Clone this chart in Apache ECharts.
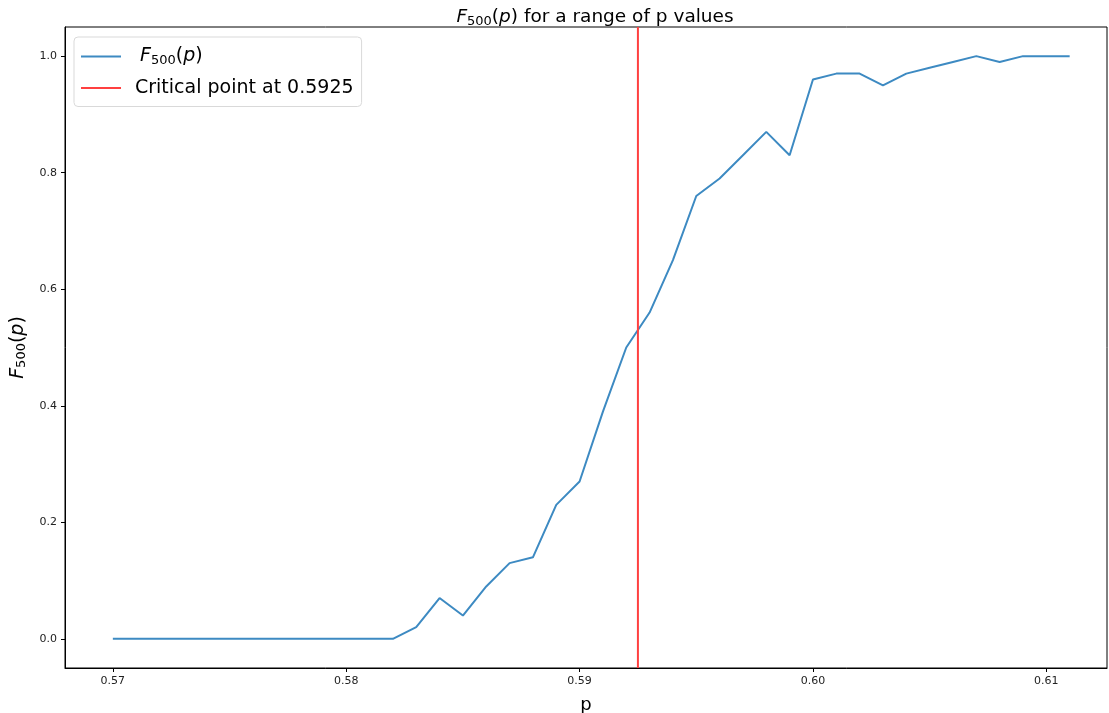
<!DOCTYPE html>
<html>
<head>
<meta charset="utf-8">
<script src="https://cdn.jsdelivr.net/npm/echarts@6/dist/echarts.min.js"></script>
<style>html,body{margin:0;padding:0;background:#fff}#c{width:1109px;height:713px}</style>
</head>
<body>
<div id="c"></div>
<script>
const pValues = [0.570,0.571,0.572,0.573,0.574,0.575,0.576,0.577,0.578,0.579,0.580,0.581,0.582,0.583,0.584,0.585,0.586,0.587,0.588,0.589,0.590,0.591,0.592,0.593,0.594,0.595,0.596,0.597,0.598,0.599,0.600,0.601,0.602,0.603,0.604,0.605,0.606,0.607,0.608,0.609,0.610,0.611];
const fValues = [0,0,0,0,0,0,0,0,0,0,0,0,0,0.02,0.07,0.04,0.09,0.13,0.14,0.23,0.27,0.39,0.50,0.56,0.65,0.76,0.79,0.83,0.87,0.83,0.96,0.97,0.97,0.95,0.97,0.98,0.99,1.00,0.99,1.00,1.00,1.00];
const criticalP = 0.5925;
const xTicks = [0.57,0.58,0.59,0.60,0.61];
const yTicks = [0.0,0.2,0.4,0.6,0.8,1.0];
const seriesNames = ['F500', 'Critical point at 0.5925'];

const chart = echarts.init(document.getElementById('c'), null, {renderer:'canvas'});
const fam = 'DejaVu Sans';
const rich = (fs) => ({
  i: {fontFamily: fam, fontSize: fs, fontStyle: 'italic', fontWeight: 'normal', color: '#000'},
  s: {fontFamily: fam, fontSize: Math.round(fs*0.7), fontWeight: 'normal', color: '#000', padding: [Math.round(fs*0.45),0,0,0]},
  n: {fontFamily: fam, fontSize: fs, fontWeight: 'normal', color: '#000'},
  g: {fontFamily: fam, fontSize: fs, width: 9},
  g2: {fontFamily: fam, fontSize: fs, width: 14}
});
chart.setOption({
  animation: false,
  title: {
    text: '{i|F}{s|500}{n|(}{i|p}{n|) for a range of p values}',
    left: 590, top: 2, textAlign: 'center',
    textStyle: {fontWeight: 'normal', rich: rich(18.5)}
  },
  legend: {
    show: true, left: 74, top: 37, orient: 'vertical',
    data: seriesNames,
    itemWidth: 40, itemHeight: 2, icon: 'rect', itemGap: 11,
    padding: [10, 8, 9, 7],
    borderColor: '#d9d9d9', borderWidth: 1, borderRadius: 4,
    backgroundColor: 'rgba(255,255,255,0.8)',
    formatter: function(name){
      if (name === seriesNames[0]) return '{g2| }{i|F}{s|500}{n|(}{i|p}{n|)}';
      return '{g| }{n|' + name + '}';
    },
    textStyle: {fontWeight: 'normal', rich: rich(19)}
  },
  grid: {left: 65, right: 2, top: 27, bottom: 45, outerBoundsMode: 'none', containLabel: false, show: true, borderColor: '#000', borderWidth: 1, backgroundColor: 'transparent'},
  xAxis: {
    type: 'value', min: 0.56795, max: 0.6126,
    name: 'p', nameLocation: 'middle', nameGap: 28,
    nameTextStyle: {fontFamily: fam, fontSize: 18, color: '#000'},
    splitLine: {show: false},
    axisLine: {show: true, onZero: false, lineStyle: {color: '#000', width: 1}},
    axisTick: {show: true, length: 4, customValues: xTicks, lineStyle: {color: '#000'}},
    axisLabel: {customValues: xTicks, formatter: v => v.toFixed(2), fontFamily: fam, fontSize: 11, color: '#222', margin: 8}
  },
  yAxis: {
    type: 'value', min: -0.05, max: 1.05,
    name: '{i|F}{s|500}{n|(}{i|p}{n|)}', nameLocation: 'middle', nameGap: 35, nameRotate: 90,
    nameTextStyle: {rich: rich(19)},
    splitLine: {show: false},
    axisLine: {show: true, onZero: false, lineStyle: {color: '#000', width: 1}},
    axisTick: {show: true, length: 4, customValues: yTicks, lineStyle: {color: '#000'}},
    axisLabel: {customValues: yTicks, formatter: v => v.toFixed(1), fontFamily: fam, fontSize: 11, color: '#222', margin: 8}
  },
  series: [
    {
      name: seriesNames[0], type: 'line', showSymbol: false, symbol: 'none',
      data: pValues.map((p, i) => [p, fValues[i]]),
      lineStyle: {color: '#3d8ac2', width: 2},
      itemStyle: {color: '#3d8ac2'}
    },
    {
      name: seriesNames[1], type: 'line', showSymbol: false, symbol: 'none',
      data: [[criticalP, -0.05], [criticalP, 1.05]],
      lineStyle: {color: '#ff4040', width: 2},
      itemStyle: {color: '#ff4040'}
    }
  ]
});
</script>
</body>
</html>
